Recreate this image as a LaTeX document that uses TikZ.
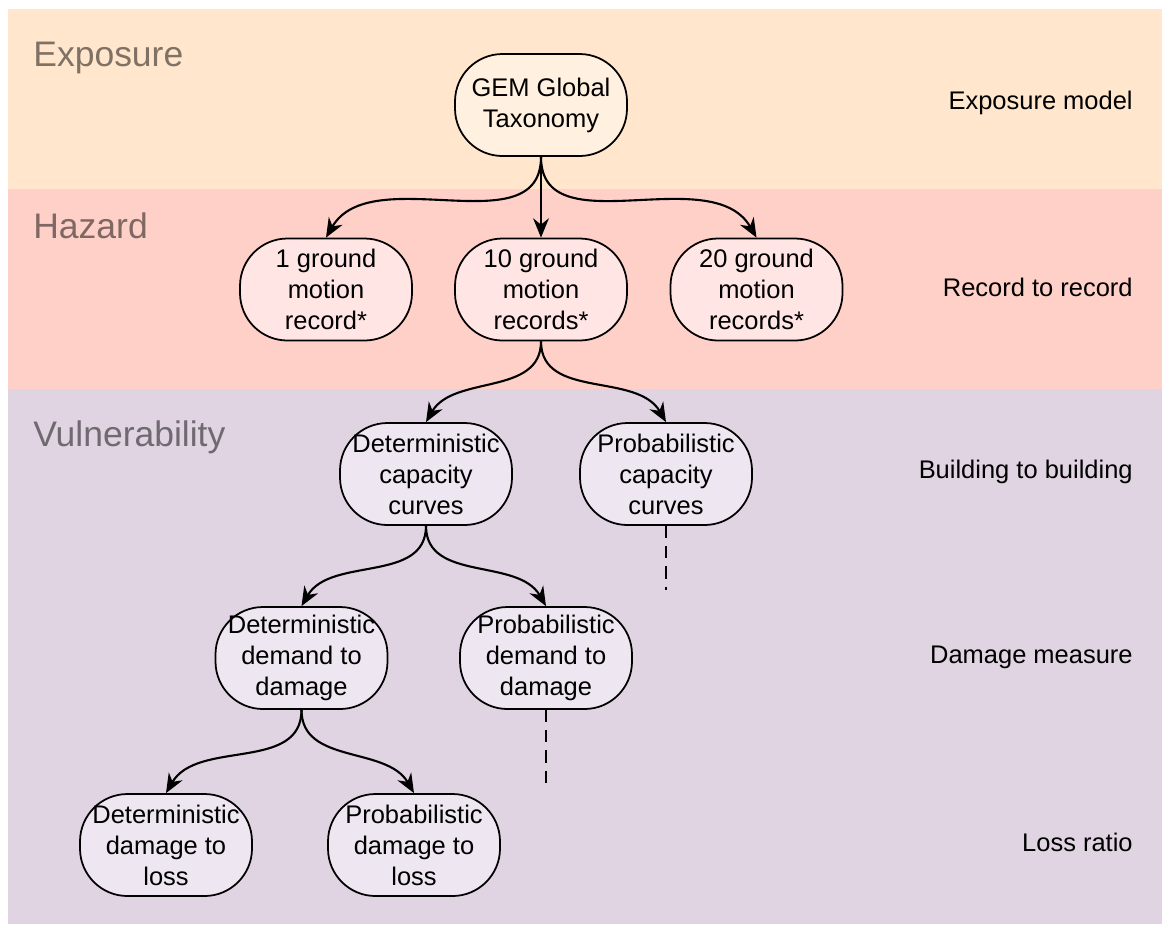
\documentclass[tikz,border=0pt]{standalone}
\usepackage{fontspec}
\setmainfont{Liberation Sans}
\usetikzlibrary{arrows.meta}
\definecolor{expband}{HTML}{FFE6CC}
\definecolor{hazband}{HTML}{FFD0C8}
\definecolor{vulband}{HTML}{E0D4E2}
\definecolor{expfill}{HTML}{FFF0E0}
\definecolor{hazfill}{HTML}{FFE6E4}
\definecolor{vulfill}{HTML}{EEE6F0}
\begin{document}
\begin{tikzpicture}[
    box/.style={draw, line width=1pt, rounded corners=0.95cm, minimum width=3.44cm,
      minimum height=2.04cm, align=center, font=\fontsize{14.5}{17.6}\selectfont},
    band/.style={font=\fontsize{20.2}{24}\selectfont, text=black, text opacity=0.5,
      anchor=base west, inner sep=0pt},
    level/.style={font=\fontsize{14.5}{17.6}\selectfont, anchor=east, inner sep=0pt},
    edge/.style={line width=1.2pt, -{Stealth[length=11pt,width=9pt]}},
    open/.style={line width=1.2pt, dash pattern=on 7pt off 4.5pt}
  ]
            \useasboundingbox (0,0) rectangle (23.24,-18.52);
            \fill[expband] (0.16,-0.18) rectangle (23.24,-3.77);
            \fill[hazband] (0.16,-3.77) rectangle (23.24,-7.77);
            \fill[vulband] (0.16,-7.77) rectangle (23.24,-18.48);
            \node[band] (exposure) at (0.66,-1.33) {Exposure};
            \node[band] (hazard) at (0.66,-4.76) {Hazard};
            \node[band] (vulnerability) at (0.66,-8.92) {Vulnerability};
            \node[level] (lvlexp) at (22.66,-2.06) {Exposure model};
            \node[level] (lvlrec) at (22.66,-5.74) {Record to record};
            \node[level] (lvlbld) at (22.66,-9.44) {Building to building};
            \node[level] (lvldam) at (22.66,-13.14) {Damage measure};
            \node[level] (lvlloss) at (22.66,-16.84) {Loss ratio};
            \node[box, fill=expfill] (gem) at (10.82,-2.10) {GEM Global\\Taxonomy};
            \node[box, fill=hazfill] (rec1) at (6.52,-5.79) {1 ground\\motion\\record*};
            \node[box, fill=hazfill] (rec10) at (10.82,-5.79) {10 ground\\motion\\records*};
            \node[box, fill=hazfill] (rec20) at (15.13,-5.79) {20 ground\\motion\\records*};
            \node[box, fill=vulfill] (detcap) at (8.52,-9.48) {Deterministic\\capacity\\curves};
            \node[box, fill=vulfill] (probcap) at (13.32,-9.48) {Probabilistic\\capacity\\curves};
            \node[box, fill=vulfill] (detdem) at (6.03,-13.16) {Deterministic\\demand to\\damage};
            \node[box, fill=vulfill] (probdem) at (10.92,-13.16) {Probabilistic\\demand to\\damage};
            \node[box, fill=vulfill] (detloss) at (3.32,-16.90) {Deterministic\\damage to\\loss};
            \node[box, fill=vulfill] (probloss) at (8.28,-16.90) {Probabilistic\\damage to\\loss};
            \coordinate (capend) at (13.32,-11.80);
            \coordinate (demend) at (10.92,-15.80);
            \draw[edge] (gem.south) to[out=-90,in=60] (rec1.north);
            \draw[edge] (gem.south) -- (rec10.north);
            \draw[edge] (gem.south) to[out=-90,in=120] (rec20.north);
            \draw[edge] (rec10.south) to[out=-90,in=60] (detcap.north);
            \draw[edge] (rec10.south) to[out=-90,in=120] (probcap.north);
            \draw[edge] (detcap.south) to[out=-90,in=60] (detdem.north);
            \draw[edge] (detcap.south) to[out=-90,in=120] (probdem.north);
            \draw[edge] (detdem.south) to[out=-90,in=60] (detloss.north);
            \draw[edge] (detdem.south) to[out=-90,in=120] (probloss.north);
            \draw[open] (probcap.south) -- (capend);
            \draw[open] (probdem.south) -- (demend);
        \end{tikzpicture}
\end{document}
